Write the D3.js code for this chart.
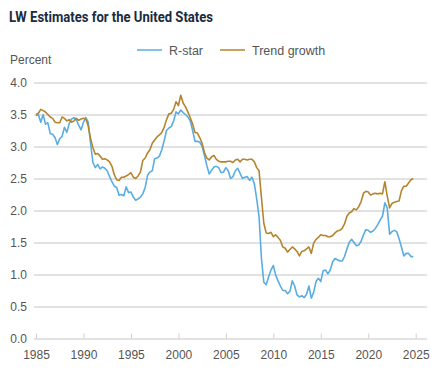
<!DOCTYPE html>
<html>
<head>
<meta charset="utf-8">
<script src="https://cdn.jsdelivr.net/npm/d3@7"></script>
<style>
  body { margin: 0; background: #fff; }
  svg text { font-family: "Liberation Sans", Arial, sans-serif; }
</style>
</head>
<body>
<div id="chart"></div>
<script>
// quarterly estimates, 1985Q1 onward
var startYear = 1985;

var rStar = [
  3.48, 3.50, 3.38, 3.50,  3.35, 3.37, 3.20, 3.19,  3.14, 3.03, 3.12, 3.16,  3.30, 3.22, 3.36, 3.43,
  3.45, 3.42, 3.33, 3.26,  3.38, 3.45, 3.38, 3.05,  2.75, 2.67, 2.72, 2.65,  2.68, 2.66, 2.62, 2.53,
  2.45, 2.38, 2.36, 2.24,  2.25, 2.23, 2.37, 2.28,  2.29, 2.21, 2.16, 2.18,  2.21, 2.26, 2.36, 2.55,
  2.60, 2.62, 2.81, 2.82,  2.85, 2.95, 3.09, 3.25,  3.29, 3.31, 3.40, 3.54,  3.51, 3.57, 3.53, 3.50,
  3.46, 3.40, 3.25, 3.08,  3.08, 3.07, 3.00, 2.86,  2.70, 2.57, 2.63, 2.68,  2.69, 2.67, 2.59, 2.60,
  2.67, 2.62, 2.50, 2.53,  2.62, 2.66, 2.58, 2.50,  2.52, 2.53, 2.47, 2.52,  2.42, 2.18, 1.90, 1.25,
  0.88, 0.84, 0.96, 1.07,  1.14, 0.99, 0.90, 0.82,  0.75, 0.75, 0.70, 0.74,  0.90, 0.82, 0.68, 0.65,
  0.67, 0.64, 0.69, 0.82,  0.63, 0.72, 0.89, 0.94,  0.89, 1.06, 1.07, 1.01,  1.07, 1.20, 1.25, 1.23,
  1.21, 1.21, 1.28, 1.40,  1.50, 1.55, 1.50, 1.45,  1.46, 1.52, 1.62, 1.70,  1.69, 1.66, 1.68, 1.72,
  1.78, 1.85, 1.91, 2.12,  2.04, 1.63, 1.67, 1.69,  1.67, 1.56, 1.43, 1.29,  1.33, 1.33, 1.28, 1.28
];

var trendGrowth = [
  3.50, 3.52, 3.58, 3.56,  3.54, 3.50, 3.46, 3.44,  3.38, 3.37, 3.37, 3.46,  3.44, 3.40, 3.42, 3.38,
  3.40, 3.44, 3.41, 3.43,  3.44, 3.43, 3.32, 3.12,  2.98, 2.88, 2.89, 2.85,  2.80, 2.81, 2.79, 2.76,
  2.69, 2.56, 2.48, 2.47,  2.52, 2.52, 2.54, 2.56,  2.59, 2.52, 2.50, 2.54,  2.60, 2.78, 2.82, 2.90,
  2.95, 3.05, 3.10, 3.15,  3.18, 3.22, 3.30, 3.42,  3.51, 3.52, 3.58, 3.70,  3.64, 3.80, 3.68, 3.62,
  3.54, 3.45, 3.35, 3.22,  3.21, 3.14, 3.05, 2.90,  2.82, 2.79, 2.84, 2.86,  2.80, 2.77, 2.76, 2.76,
  2.76, 2.77, 2.77, 2.75,  2.79, 2.80, 2.76, 2.80,  2.80, 2.79, 2.80, 2.80,  2.76, 2.67, 2.62, 2.20,
  1.80, 1.65, 1.64, 1.66,  1.59, 1.62, 1.58, 1.53,  1.43, 1.41, 1.35, 1.39,  1.43, 1.40, 1.36, 1.29,
  1.36, 1.37, 1.40, 1.43,  1.33, 1.49, 1.55, 1.58,  1.62, 1.61, 1.61, 1.59,  1.59, 1.61, 1.65, 1.68,
  1.69, 1.72, 1.79, 1.91,  1.96, 1.98, 2.03, 2.01,  2.06, 2.14, 2.27, 2.30,  2.29, 2.24, 2.26, 2.27,
  2.26, 2.27, 2.26, 2.45,  2.23, 2.04, 2.11, 2.13,  2.14, 2.15, 2.31, 2.38,  2.38, 2.43, 2.48, 2.50
];

var seriesNames = ["R-star", "Trend growth"];
var seriesColors = ["#5aade2", "#b5842c"];
var yTicks = [0, 0.5, 1, 1.5, 2, 2.5, 3, 3.5, 4];
var xTicks = [1985, 1990, 1995, 2000, 2005, 2010, 2015, 2020, 2025];

var width = 443, height = 371;
var gridLeft = 34, gridRight = 427;

var svg = d3.select("#chart").append("svg")
            .attr("width", width).attr("height", height);

var x = d3.scaleLinear().domain([1985, 2025]).range([36, 415.7]);
var y = d3.scaleLinear().domain([0, 4]).range([338.5, 82.5]);

// title
svg.append("text")
   .attr("x", 9).attr("y", 22)
   .attr("textLength", 204).attr("lengthAdjust", "spacingAndGlyphs")
   .style("font-family", "Roboto, 'Liberation Sans', sans-serif")
   .style("font-weight", "700").style("font-size", "14.5px")
   .style("fill", "#1b2a41")
   .text("LW Estimates for the United States");

svg.append("text")
   .attr("x", 10).attr("y", 64)
   .style("font-size", "12px").style("fill", "#555")
   .text("Percent");

// legend
var legendX = [137, 220];
var legend = svg.append("g").selectAll("g")
                .data(seriesNames).enter().append("g");
legend.append("line")
      .attr("x1", function(d, i){ return legendX[i]; })
      .attr("x2", function(d, i){ return legendX[i] + 25; })
      .attr("y1", 50).attr("y2", 50)
      .attr("stroke", function(d, i){ return seriesColors[i]; })
      .attr("stroke-width", 1.5);
legend.append("text")
      .attr("x", function(d, i){ return legendX[i] + 32; })
      .attr("y", 55)
      .style("font-size", "12.5px").style("fill", "#555")
      .text(function(d){ return d; });

// y axis + grid
var yAxis = svg.append("g")
               .attr("transform", "translate(" + gridLeft + ",0)")
               .call(d3.axisLeft(y).tickValues(yTicks)
                       .tickFormat(d3.format(".1f"))
                       .tickSize(-(gridRight - gridLeft)).tickPadding(7));
yAxis.select(".domain").remove();
yAxis.selectAll(".tick line").attr("stroke", "#d9d9d9").attr("stroke-width", 1.5);
yAxis.selectAll(".tick text").style("font-size", "12px").style("fill", "#555")
     .style("font-family", "'Liberation Sans', Arial, sans-serif");

// x axis, ticks pointing up
var xAxis = svg.append("g")
               .attr("transform", "translate(0," + y(0) + ")")
               .call(d3.axisBottom(x).tickValues(xTicks)
                       .tickFormat(d3.format("d"))
                       .tickSize(-5).tickPadding(12));
xAxis.select(".domain").remove();
xAxis.selectAll(".tick line").attr("stroke", "#cfcfcf");
xAxis.selectAll(".tick text").style("font-size", "12px").style("fill", "#555")
     .style("font-family", "'Liberation Sans', Arial, sans-serif");

// lines
var line = d3.line()
             .x(function(d, i){ return x(startYear + i / 4); })
             .y(function(d){ return y(d); });

svg.append("g").selectAll("path")
   .data([rStar, trendGrowth]).enter().append("path")
   .attr("d", line)
   .attr("fill", "none")
   .attr("stroke", function(d, i){ return seriesColors[i]; })
   .attr("stroke-width", 1.6)
   .attr("stroke-linejoin", "round");
</script>
</body>
</html>
